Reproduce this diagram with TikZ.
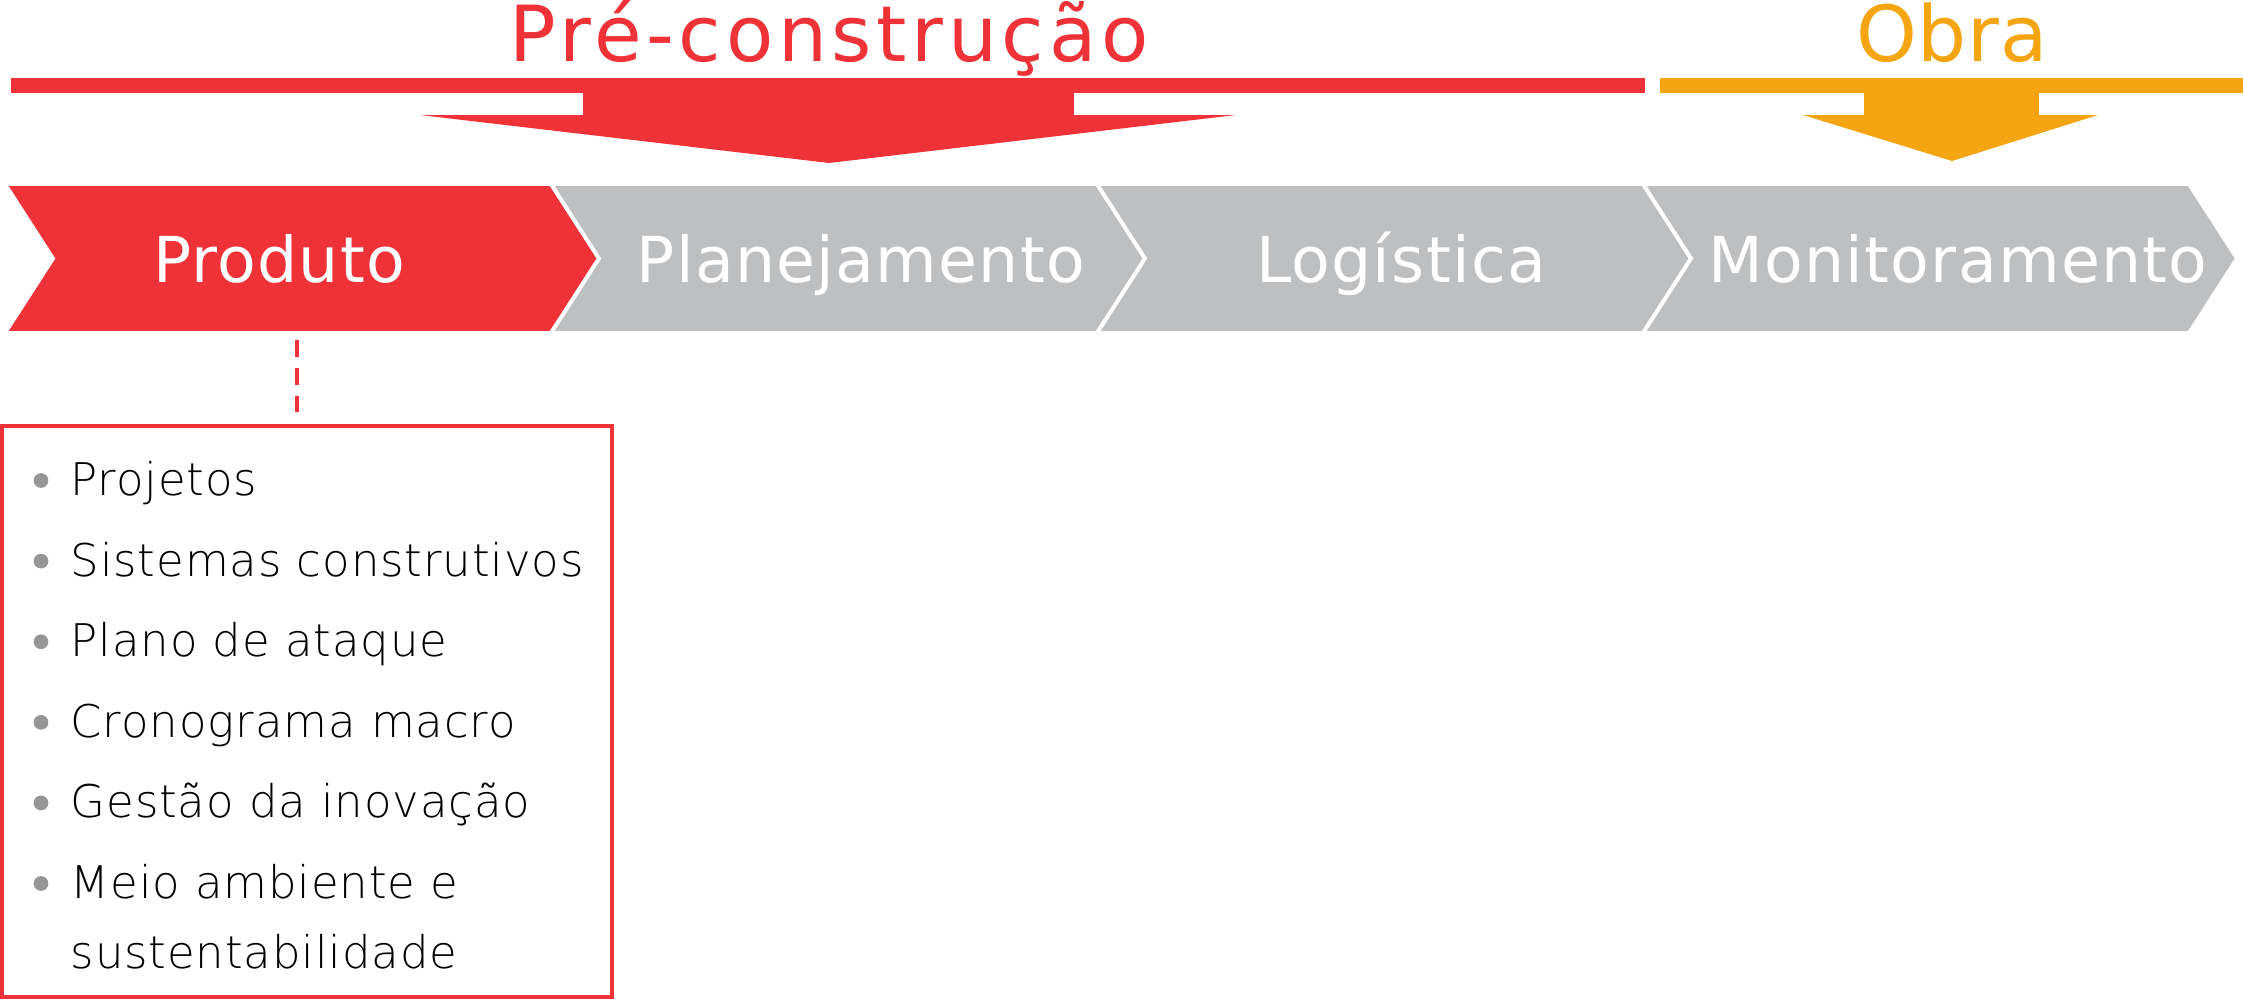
\documentclass[tikz,border=0pt]{standalone}
\usepackage{fontspec}
\setmainfont{DejaVu Sans}
\newfontfamily\titlefont[LetterSpace=6]{DejaVu Sans}
\newfontfamily\obrafont[LetterSpace=1]{DejaVu Sans}
\newfontfamily\labfont[LetterSpace=2]{DejaVu Sans}
\newfontfamily\listfont[LetterSpace=2]{DejaVu Sans ExtraLight}
\definecolor{cred}{RGB}{238,50,56}
\definecolor{cgray}{RGB}{190,191,193}
\definecolor{corange}{RGB}{245,165,18}
\definecolor{cbullet}{RGB}{150,150,150}
\definecolor{ctext}{RGB}{0,0,0}
\tikzset{
  chev/.style={draw=white, line width=1.1pt, line join=miter},
  titletext/.style={inner sep=0pt, anchor=base, font=\titlefont\fontsize{22}{26}\selectfont},
  obratext/.style={inner sep=0pt, anchor=base, font=\obrafont\fontsize{22}{26}\selectfont},
  labtext/.style={inner sep=0pt, anchor=base, text=white, font=\labfont\fontsize{18}{22}\selectfont},
  itemtext/.style={inner sep=0pt, anchor=base west, text=ctext, font=\listfont\fontsize{12.8}{15}\selectfont},
  bul/.style={circle, fill=cbullet, inner sep=0pt, minimum size=4.2pt},
  listbox/.style={draw=cred, line width=1.15pt, inner sep=0pt, outer sep=0pt, anchor=north west},
  dashlink/.style={draw=cred, line width=1.15pt, dash pattern=on 4.8pt off 3.1pt}
}
\begin{document}
\begin{tikzpicture}[x=0.01cm, y=-0.01cm]
\useasboundingbox (0,0) rectangle (2243,1000);
% titles
\node[titletext, text=cred] (tpre) at (829,61) {Pré-construção};
\node[obratext, text=corange] (tobra) at (1952,61) {Obra};
% bars and arrows
\fill[cred] (11,78) rectangle (1645,93);
\fill[cred] (583,92) rectangle (1074,116);
\fill[cred] (420,115) -- (1236,115) -- (829,163) -- cycle;
\fill[corange] (1660,78) rectangle (2243,93);
\fill[corange] (1864,92) rectangle (2039,116);
\fill[corange] (1803,115) -- (2098,115) -- (1952,161) -- cycle;
% chevrons
\foreach \L/\c in {5/cred, 551/cgray, 1097/cgray, 1643/cgray}{
  \filldraw[chev, fill=\c] (\L,184) -- ({\L+546},184) -- ({\L+594},258.5) -- ({\L+546},333) -- (\L,333) -- ({\L+48},258.5) -- cycle;
}
\node[labtext] (produto) at (279,282.5) {Produto};
\node[labtext] (planej) at (861,282.5) {Planejamento};
\node[labtext] (logist) at (1401,282.5) {Logística};
\node[labtext] (monit) at (1958,282.5) {Monitoramento};
% box
\node[listbox, minimum width=6.1cm, minimum height=5.705cm] (box) at (2,426) {};
\coordinate (d1) at (297,340);
\coordinate (d2) at (297,415);
\draw[dashlink] (d1) -- (d2);
% items
\foreach \i/\t in {0/Projetos, 1/Sistemas construtivos, 2/Plano de ataque, 3/Cronograma macro, 4/Gestão da inovação, 5/Meio ambiente e}{
  \node[bul] (b\i) at (41,{495.5+80.6*\i-15}) {};
  \node[itemtext] (it\i) at (70,{495.5+80.6*\i}) {\t};
}
\node[itemtext] (it6) at (70,968) {sustentabilidade};
\end{tikzpicture}
\end{document}
